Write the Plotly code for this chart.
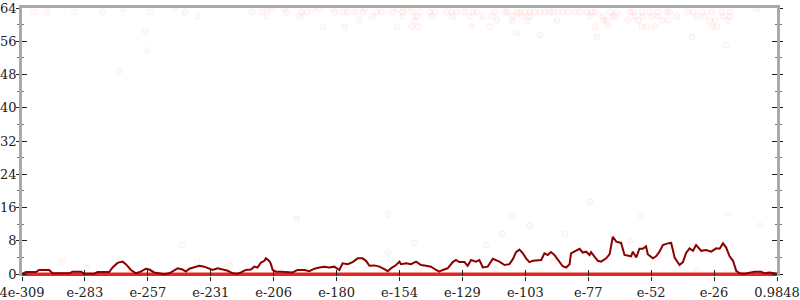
import plotly.graph_objects as go

# x axis: decimal exponent, linear from -309 to 0
tick_vals = [-309 + k * 25.75 for k in range(13)]
tick_text = ["4e-309", "e-283", "e-257", "e-231", "e-206", "e-180", "e-154",
             "e-129", "e-103", "e-77", "e-52", "e-26", "0.9848"]

# smoothed series (dark red line)
line_x = [-309, -307.4, -303.3, -302.0, -297.9, -296.5, -289.7, -288.3, -284.9, -283.5,
          -279.4, -278.1, -273.3, -271.9, -269.9, -267.8, -266.5, -264.4, -262.4, -260.4,
          -258.3, -256.9, -254.9, -252.8, -250.8, -248.7, -246.7, -245.3, -243.3, -241.9,
          -240.5, -238.5, -236.4, -234.4, -232.3, -231.0, -228.9, -226.9, -224.8, -222.8,
          -220.8, -219.4, -217.4, -215.3, -213.9, -212.6, -211.2, -209.8, -209.2, -207.8,
          -207.1, -206.4, -205.1, -203.0, -200.3, -198.2, -196.2, -193.4, -191.4, -189.3,
          -187.3, -185.2, -183.2, -181.2, -179.1, -177.8, -175.7, -173.7, -171.6, -169.6,
          -168.2, -166.8, -164.8, -162.7, -160.7, -159.3, -158.0, -155.9, -154.5, -153.9,
          -151.8, -149.8, -147.7, -145.7, -143.6, -141.6, -139.5, -138.2, -136.8, -134.8,
          -132.7, -131.4, -130.0, -127.9, -126.6, -125.2, -123.2, -121.8, -120.4, -118.4,
          -116.3, -115.0, -113.6, -111.5, -109.5, -108.1, -106.8, -105.4, -104.0, -102.7,
          -101.3, -99.9, -97.9, -96.5, -95.2, -93.8, -92.5, -91.1, -89.7, -87.7,
          -86.3, -84.9, -84.3, -82.9, -80.8, -79.5, -78.1, -76.7, -76.1, -74.7,
          -73.3, -72.0, -69.9, -68.5, -67.2, -65.8, -63.8, -62.4, -59.7, -59.0,
          -57.6, -56.3, -54.9, -53.6, -52.9, -50.8, -49.5, -48.1, -46.7, -44.7,
          -43.3, -41.9, -39.9, -38.5, -37.2, -35.8, -34.4, -33.1, -31.0, -29.0,
          -26.9, -24.9, -23.5, -22.1, -20.8, -19.4, -18.0, -16.7, -15.3, -13.3,
          -11.2, -9.2, -6.5, -5.1, -3.0, -1.0, 0]
line_y = [0, 0.5, 0.5, 1.0, 1.0, 0.2, 0.2, 0.6, 0.6, 0.1,
          0.1, 0.5, 0.5, 1.6, 2.7, 3.0, 2.4, 1.0, 0.2, 0.6,
          1.3, 1.1, 0.4, 0.2, 0.0, 0.2, 1.0, 1.4, 1.1, 0.6,
          1.3, 1.7, 2.0, 1.8, 1.3, 1.0, 1.4, 1.1, 0.8, 0.2,
          0.1, 0.4, 1.0, 1.1, 1.8, 1.6, 2.8, 3.2, 3.8, 3.2,
          2.4, 1.0, 0.6, 0.6, 0.5, 0.4, 1.0, 1.0, 0.7, 1.3,
          1.6, 1.8, 1.6, 1.8, 1.0, 2.6, 2.4, 2.9, 3.8, 3.8,
          3.2, 2.0, 2.1, 1.8, 1.2, 0.7, 1.4, 2.2, 3.0, 2.4,
          2.6, 2.4, 3.0, 2.2, 2.0, 1.8, 1.0, 0.6, 1.0, 1.4,
          2.9, 3.4, 2.9, 2.9, 2.0, 3.4, 3.0, 3.4, 1.6, 1.8,
          3.7, 3.4, 3.0, 2.2, 2.4, 3.6, 5.3, 5.9, 5.0, 3.8,
          2.9, 3.2, 3.4, 3.4, 5.0, 4.6, 5.3, 4.6, 3.5, 1.9,
          1.6, 2.4, 5.0, 5.4, 6.1, 5.2, 5.4, 4.6, 5.3, 4.2,
          3.2, 3.0, 3.8, 4.8, 9.0, 7.8, 7.5, 4.6, 4.3, 5.4,
          4.0, 6.1, 6.1, 6.7, 4.8, 3.8, 4.3, 5.4, 7.0, 7.4,
          7.5, 4.0, 2.2, 2.9, 5.1, 6.2, 5.6, 7.0, 5.6, 5.8,
          5.4, 6.2, 6.1, 7.4, 6.4, 4.3, 3.2, 0.8, 0.2, 0.1,
          0.4, 0.6, 0.6, 0.2, 0.4, 0.3, 0.1]

# raw samples (faint points)
pts_x = [-303.9, -298.5, -287.5, -276.0, -256.8, -242.4, -215.0, -210.9, -200.7, -194.5,
         -192.5, -181.0, -177.7, -175.7, -172.8, -169.5, -163.8, -161.8, -157.3, -153.2,
         -149.1, -146.2, -142.1, -140.1, -135.2, -133.1, -131.1, -127.8, -124.5, -122.9,
         -115.5, -111.4, -110.2, -106.5, -105.3, -103.2, -101.2, -99.1, -97.1, -95.0,
         -93.0, -91.7, -89.7, -87.7, -85.6, -82.7, -80.7, -77.8, -75.8, -74.5,
         -68.4, -65.5, -60.2, -59.0, -55.3, -52.0, -48.7, -45.1, -43.8, -36.5,
         -34.4, -30.7, -26.6, -22.6, -19.3,
         -208.5, -206.8, -201.5, -190.0, -187.2, -181.8, -168.7, -155.2, -151.5, -8.2,
         -267.8, -246.5,
         -208.9, -195.4, -165.5, -153.2, -147.4, -141.3, -132.7, -125.7, -120.4, -116.7,
         -108.1, -104.4, -101.2, -76.6, -71.3, -67.2, -66.4, -58.2, -54.9, -51.2,
         -48.7, -41.0, -32.8, -29.5, -22.1, -19.3, -237.1,
         -170.8, -148.3, -114.7, -108.5, -102.0, -90.1, -69.6, -70.9, -61.0, -56.9,
         -47.1, -44.6, -27.5, -25.4, -20.1,
         -176.9, -155.6, -149.5, -147.0, -124.9, -117.6, -74.5, -55.3, -69.2, -53.3,
         -50.0, -26.6, -24.6, -185.9,
         -106.5, -97.1, -73.7, -258.4, -34.8, -20.9, -257.6,
         -269.1, -196.6, -159.3, -159.3, -224.0, -176.1, -148.3, -108.1, -112.6, -118.8,
         -86.8, -76.6, -115.5, -101.2, -91.7, -60.2, -20.1, -7.0, -32.8, -55.3,
         -292.8, -282.6, -243.7, -237.5]
pts_y = [63] * 65 + [63.8] * 12 + [62] * 27 + [61] * 15 + [59.5] * 14 + \
        [58, 57.5, 57, 58.4, 57, 55, 53.8] + \
        [49, 13.3, 14.5, 5.2, 2, 1, 7.5, 14, 9.7, 7,
         9.7, 17.4, 1, 11.6, 3, 8, 14.5, 11.6, 1, 14,
         3, 1.5, 7, 3]

zero_x = [-309, 0]
zero_y = [0, 0]

font = dict(family="'DejaVu Serif', serif", size=13, color="#222")

fig = go.Figure()
fig.add_trace(go.Scatter(
    x=pts_x, y=pts_y, mode="markers", hoverinfo="skip",
    marker=dict(size=6, color="rgba(255,60,60,0.03)",
                line=dict(color="rgba(255,60,60,0.07)", width=1))))
fig.add_trace(go.Scatter(x=zero_x, y=zero_y, mode="lines",
                         line=dict(color="rgb(228,38,38)", width=3.5)))
fig.add_trace(go.Scatter(x=line_x, y=line_y, mode="lines",
                         line=dict(color="#8b0000", width=2)))
# dummy traces to materialise overlay axes
fig.add_trace(go.Scatter(x=[-309], y=[0], xaxis="x2", yaxis="y2", mode="markers",
                         marker=dict(opacity=0), hoverinfo="skip"))
fig.add_trace(go.Scatter(x=[-309], y=[0], xaxis="x3", yaxis="y", mode="markers",
                         marker=dict(opacity=0), hoverinfo="skip"))

YR = [-0.45, 64]

fig.update_layout(
    width=800, height=300, showlegend=False,
    margin=dict(l=22, r=23, t=8, b=24),
    paper_bgcolor="white", plot_bgcolor="white",
    font=font,
    xaxis=dict(range=[-309, 0], tickvals=tick_vals, ticktext=tick_text,
               showgrid=False, zeroline=False, showline=False,
               ticks="outside", ticklen=4,
               tickwidth=1.3, tickcolor="#222", tickfont=font,
               automargin=False, ticklabeloverflow="allow"),
    xaxis2=dict(range=[-309, 0], tickvals=tick_vals, overlaying="x", anchor="y2",
                side="bottom", showticklabels=False, showgrid=False, zeroline=False,
                showline=False, ticks="inside", ticklen=6, tickwidth=1.3,
                tickcolor="#222", automargin=False),
    xaxis3=dict(range=[-309, 0], overlaying="x", anchor="y", side="top",
                showticklabels=False, showgrid=False, zeroline=False, ticks="",
                showline=True, linecolor="#aaa", linewidth=2.5, automargin=False),
    yaxis=dict(range=YR, tickvals=list(range(0, 65, 8)),
               showgrid=False, zeroline=False, showline=True, mirror="ticks",
               linecolor="#aaa", linewidth=2.5, ticks="inside", ticklen=5.5,
               tickwidth=1.3, tickcolor="#222", tickfont=font, automargin=False,
               ticklabeloverflow="allow",
               minor=dict(dtick=4, ticks="inside", ticklen=2.3, tickcolor="#777",
                          tickwidth=1, showgrid=False)),
    yaxis2=dict(range=YR, tickvals=list(range(0, 65, 8)), overlaying="y",
                anchor="x2", side="left", showticklabels=False, showgrid=False,
                zeroline=False, showline=True, mirror="ticks", linecolor="#aaa",
                linewidth=2.5, ticks="outside", ticklen=3.5, tickwidth=1.3,
                tickcolor="#222", automargin=False,
                minor=dict(dtick=4, ticks="outside", ticklen=2.3, tickcolor="#777",
                           tickwidth=1, showgrid=False)),
)

fig.write_html("out.html")
